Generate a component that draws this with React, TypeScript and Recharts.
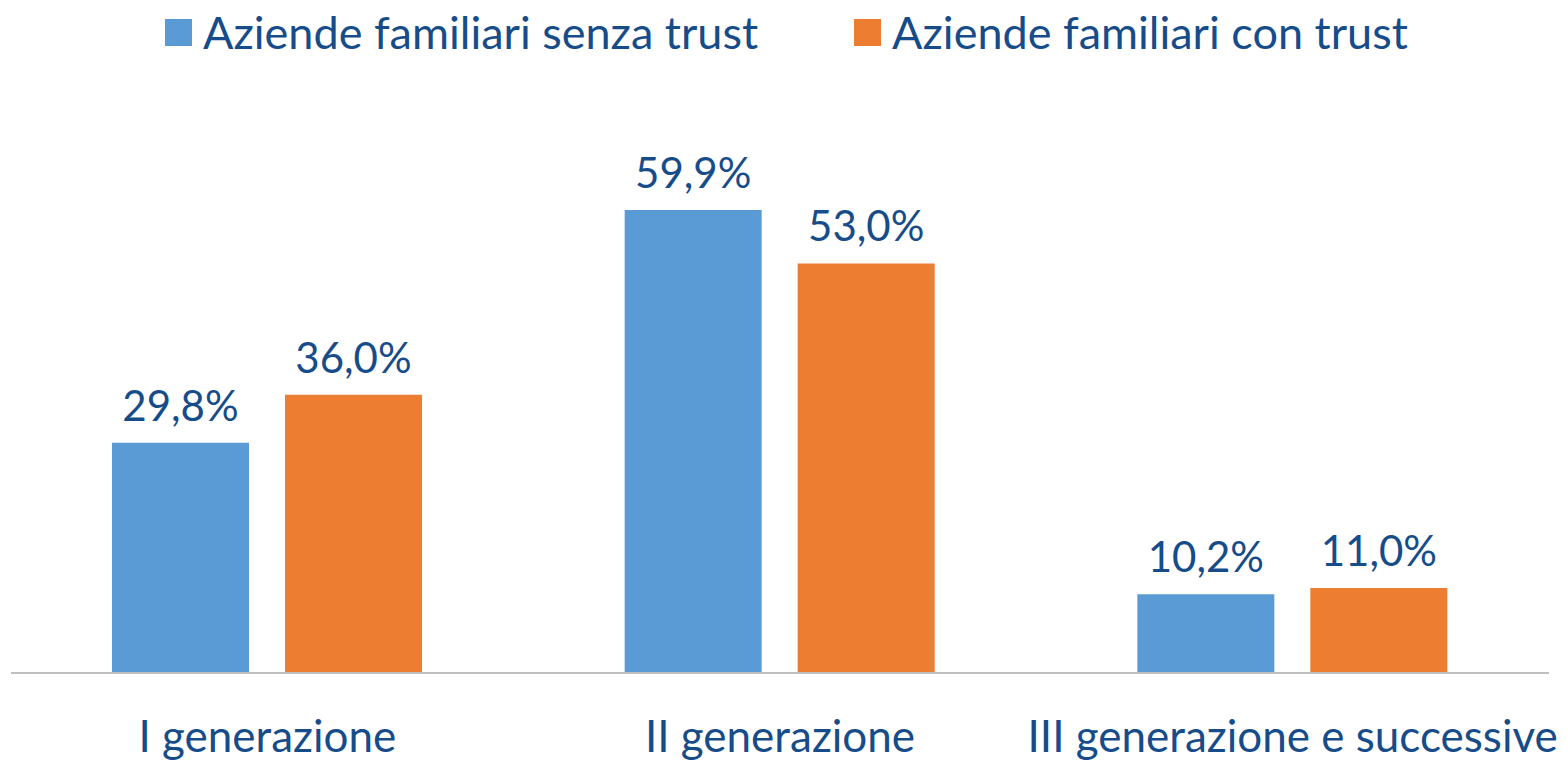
import { BarChart, Bar, XAxis, YAxis, LabelList } from 'recharts'

const categories = ['I generazione', 'II generazione', 'III generazione e successive']
const senzaTrust = [29.8, 59.9, 10.2]
const conTrust = [36.0, 53.0, 11.0]
const seriesNames = ['Aziende familiari senza trust', 'Aziende familiari con trust']
const seriesColors = ['#5B9BD5', '#ED7D31']

const data = categories.map((name, i) => ({
  name,
  senza: senzaTrust[i],
  con: conTrust[i],
}))

const textColor = '#174C8A'
const font = 'Lato, "Open Sans", sans-serif'

const fmt = (v: number) => v.toFixed(1).replace('.', ',') + '%'

export default function App() {
  return (
    <div style={{ position: 'relative', width: 1567, height: 760, fontFamily: font }}>
      <style>{'body{margin:0}'}</style>
      <div style={{ position: 'absolute', top: 6, left: 165, display: 'flex', alignItems: 'center', zIndex: 2 }}>
        {seriesNames.map((n, i) => (
          <div key={n} style={{ display: 'flex', alignItems: 'center', marginRight: i === 0 ? 96 : 0 }}>
            <div style={{ width: 27, height: 27, background: seriesColors[i], marginRight: 11 }} />
            <span style={{ fontSize: 45, color: textColor, lineHeight: '52px', whiteSpace: 'nowrap' }}>{n}</span>
          </div>
        ))}
      </div>
      <BarChart
        width={1567}
        height={760}
        data={data}
        margin={{ top: 132, right: 18, bottom: 0, left: 11 }}
        barSize={137}
        barGap={36}
      >
        <XAxis
          dataKey="name"
          height={87}
          tickLine={false}
          axisLine={{ stroke: '#BFBFBF', strokeWidth: 2 }}
          tick={{ fill: textColor, fontSize: 44, fontFamily: font }}
          dy={40}
          interval={0}
        />
        <YAxis hide domain={[0, 70]} />
        <Bar dataKey="senza" fill={seriesColors[0]} isAnimationActive={false}>
          <LabelList dataKey="senza" position="top" offset={22} formatter={fmt} fill={textColor} fontSize={42} fontFamily={font} />
        </Bar>
        <Bar dataKey="con" fill={seriesColors[1]} isAnimationActive={false}>
          <LabelList dataKey="con" position="top" offset={22} formatter={fmt} fill={textColor} fontSize={42} fontFamily={font} />
        </Bar>
      </BarChart>
    </div>
  )
}
